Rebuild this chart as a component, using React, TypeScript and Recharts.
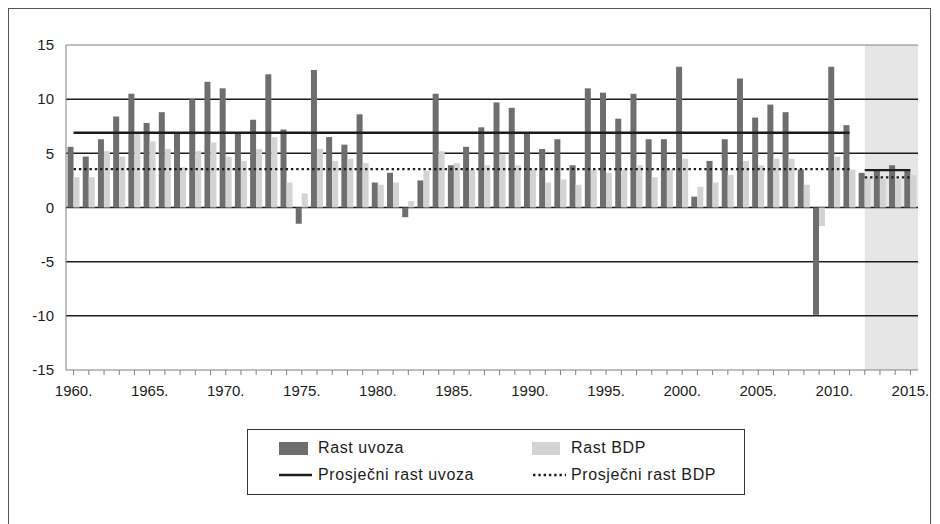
import React from 'react';
import {
  ComposedChart,
  Bar,
  Line,
  XAxis,
  YAxis,
  CartesianGrid,
  ReferenceArea,
  ReferenceLine,
} from 'recharts';

const years = [
  '1960.', '1961.', '1962.', '1963.', '1964.', '1965.', '1966.', '1967.', '1968.', '1969.',
  '1970.', '1971.', '1972.', '1973.', '1974.', '1975.', '1976.', '1977.', '1978.', '1979.',
  '1980.', '1981.', '1982.', '1983.', '1984.', '1985.', '1986.', '1987.', '1988.', '1989.',
  '1990.', '1991.', '1992.', '1993.', '1994.', '1995.', '1996.', '1997.', '1998.', '1999.',
  '2000.', '2001.', '2002.', '2003.', '2004.', '2005.', '2006.', '2007.', '2008.', '2009.',
  '2010.', '2011.', '2012.', '2013.', '2014.', '2015.',
];

// Rast uvoza (%)
const importGrowth = [
  5.6, 4.7, 6.3, 8.4, 10.5, 7.8, 8.8, 6.9, 10.0, 11.6,
  11.0, 6.8, 8.1, 12.3, 7.2, -1.5, 12.7, 6.5, 5.8, 8.6,
  2.3, 3.2, -0.9, 2.5, 10.5, 3.9, 5.6, 7.4, 9.7, 9.2,
  6.9, 5.4, 6.3, 3.9, 11.0, 10.6, 8.2, 10.5, 6.3, 6.3,
  13.0, 1.0, 4.3, 6.3, 11.9, 8.3, 9.5, 8.8, 3.5, -9.9,
  13.0, 7.6, 3.2, 3.4, 3.9, 3.4,
];

// Rast BDP (%)
const gdpGrowth = [
  2.8, 2.8, 5.2, 4.7, 6.8, 6.1, 5.4, 3.7, 5.2, 6.0,
  4.7, 4.3, 5.4, 6.5, 2.3, 1.3, 5.4, 4.3, 4.5, 4.1,
  2.1, 2.3, 0.6, 3.4, 5.2, 4.1, 3.5, 3.9, 4.9, 3.9,
  3.5, 2.3, 2.6, 2.1, 3.5, 3.2, 3.5, 3.9, 2.8, 3.5,
  4.5, 1.9, 2.3, 3.0, 4.3, 3.9, 4.5, 4.5, 2.1, -1.7,
  4.7, 3.5, 2.7, 2.6, 2.6, 3.0,
];

// prosjeci po razdobljima
const avgPeriods = [
  { from: '1960.', to: '2011.', imports: 6.9, gdp: 3.55 },
  { from: '2012.', to: '2015.', imports: 3.45, gdp: 2.78 },
];

const labeledYears = ['1960.', '1965.', '1970.', '1975.', '1980.', '1985.', '1990.', '1995.', '2000.', '2005.', '2010.', '2015.'];
const yTicks = [-15, -10, -5, 0, 5, 10, 15];
const gridValues = [10, 5, 0, -5, -10];
const forecastFrom = '2012.';
const forecastTo = '2015.';

const chartData = years.map((year, i) => {
  const row: Record<string, string | number | null> = {
    year,
    imports: importGrowth[i],
    gdp: gdpGrowth[i],
  };
  avgPeriods.forEach((p, k) => {
    const inside = i >= years.indexOf(p.from) && i <= years.indexOf(p.to);
    row[`avgImport${k}`] = inside ? p.imports : null;
    row[`avgGdp${k}`] = inside ? p.gdp : null;
  });
  return row;
});

const DARK = '#6e6e6e';
const LIGHT = '#d2d3d5';
const SHADE = '#e6e6e6';
const AXIS = '#808080';
const INK = '#1c1c1c';
const FONT = '"Liberation Sans", Arial, sans-serif';

const shadeSpan = years.indexOf(forecastTo) - years.indexOf(forecastFrom) + 1;

// sjenčanje počinje od sredine 2012.
const ShadeRect = (props: any) => {
  const { x, y, width, height } = props;
  const band = width / shadeSpan;
  return <rect x={x + band / 2} y={y} width={width - band / 2} height={height} fill={SHADE} />;
};

function LegendBox() {
  const text: React.CSSProperties = {
    position: 'absolute',
    fontSize: 16,
    letterSpacing: 0.6,
    lineHeight: '20px',
    color: INK,
  };
  return (
    <div
      style={{
        position: 'absolute',
        left: 238,
        top: 420,
        width: 498,
        height: 66,
        boxSizing: 'border-box',
        border: '1px solid #333',
        fontFamily: FONT,
      }}
    >
      <div style={{ position: 'absolute', left: 31, top: 12, width: 29, height: 13, background: DARK }} />
      <div style={{ ...text, left: 70, top: 8 }}>Rast uvoza</div>
      <div style={{ position: 'absolute', left: 284, top: 12, width: 28, height: 13, background: LIGHT }} />
      <div style={{ ...text, left: 323, top: 8 }}>Rast BDP</div>
      <svg style={{ position: 'absolute', left: 31, top: 40 }} width={34} height={10}>
        <line x1={0} x2={33} y1={5} y2={5} stroke={INK} strokeWidth={2.3} />
      </svg>
      <div style={{ ...text, left: 70, top: 35 }}>Prosječni rast uvoza</div>
      <svg style={{ position: 'absolute', left: 285, top: 40 }} width={34} height={10}>
        <line x1={0} x2={33} y1={5} y2={5} stroke={INK} strokeWidth={2.3} strokeDasharray="2.4 2.9" />
      </svg>
      <div style={{ ...text, left: 323, top: 35 }}>Prosječni rast BDP</div>
    </div>
  );
}

export default function App() {
  const tick = { fontSize: 15, fill: INK, fontFamily: FONT };
  return (
    <div
      style={{
        position: 'relative',
        width: 921,
        height: 520,
        borderTop: '1px solid #555',
        borderLeft: '1px solid #555',
        borderRight: '1px solid #555',
        fontFamily: FONT,
      }}
    >
      <style>{'html,body{overflow:hidden}'}</style>
      <ComposedChart
        width={921}
        height={400}
        data={chartData}
        margin={{ top: 36, right: 12, bottom: 9, left: 0 }}
        barCategoryGap="10%"
        barGap={0}
      >
        <ReferenceArea x1={forecastFrom} x2={forecastTo} shape={ShadeRect} zIndex={-200} />
        <CartesianGrid
          vertical={false}
          horizontalValues={gridValues}
          stroke={INK}
          strokeWidth={1.5}
        />
        <XAxis
          dataKey="year"
          interval={0}
          tickFormatter={(v: string) => (labeledYears.includes(v) ? v : '')}
          tick={tick}
          tickSize={5}
          tickMargin={10}
          height={30}
          axisLine={{ stroke: AXIS }}
          tickLine={{ stroke: AXIS }}
        />
        <YAxis
          domain={[-15, 15]}
          ticks={yTicks}
          interval={0}
          tick={tick}
          tickLine={false}
          tickMargin={6}
          width={57}
          axisLine={{ stroke: AXIS }}
        />
        <YAxis
          yAxisId="right"
          orientation="right"
          domain={[-15, 15]}
          width={0}
          tick={false}
          tickLine={false}
          axisLine={{ stroke: AXIS }}
        />
        <ReferenceLine y={15} stroke={AXIS} />
        <Bar dataKey="imports" fill={DARK} isAnimationActive={false} />
        <Bar dataKey="gdp" fill={LIGHT} isAnimationActive={false} />
        {avgPeriods.map((_, k) => (
          <Line
            key={`ai${k}`}
            dataKey={`avgImport${k}`}
            stroke={INK}
            strokeWidth={2.3}
            dot={false}
            activeDot={false}
            isAnimationActive={false}
          />
        ))}
        {avgPeriods.map((_, k) => (
          <Line
            key={`ag${k}`}
            dataKey={`avgGdp${k}`}
            stroke={INK}
            strokeWidth={2.3}
            strokeDasharray="2.4 2.9"
            dot={false}
            activeDot={false}
            isAnimationActive={false}
          />
        ))}
      </ComposedChart>
      <LegendBox />
    </div>
  );
}
